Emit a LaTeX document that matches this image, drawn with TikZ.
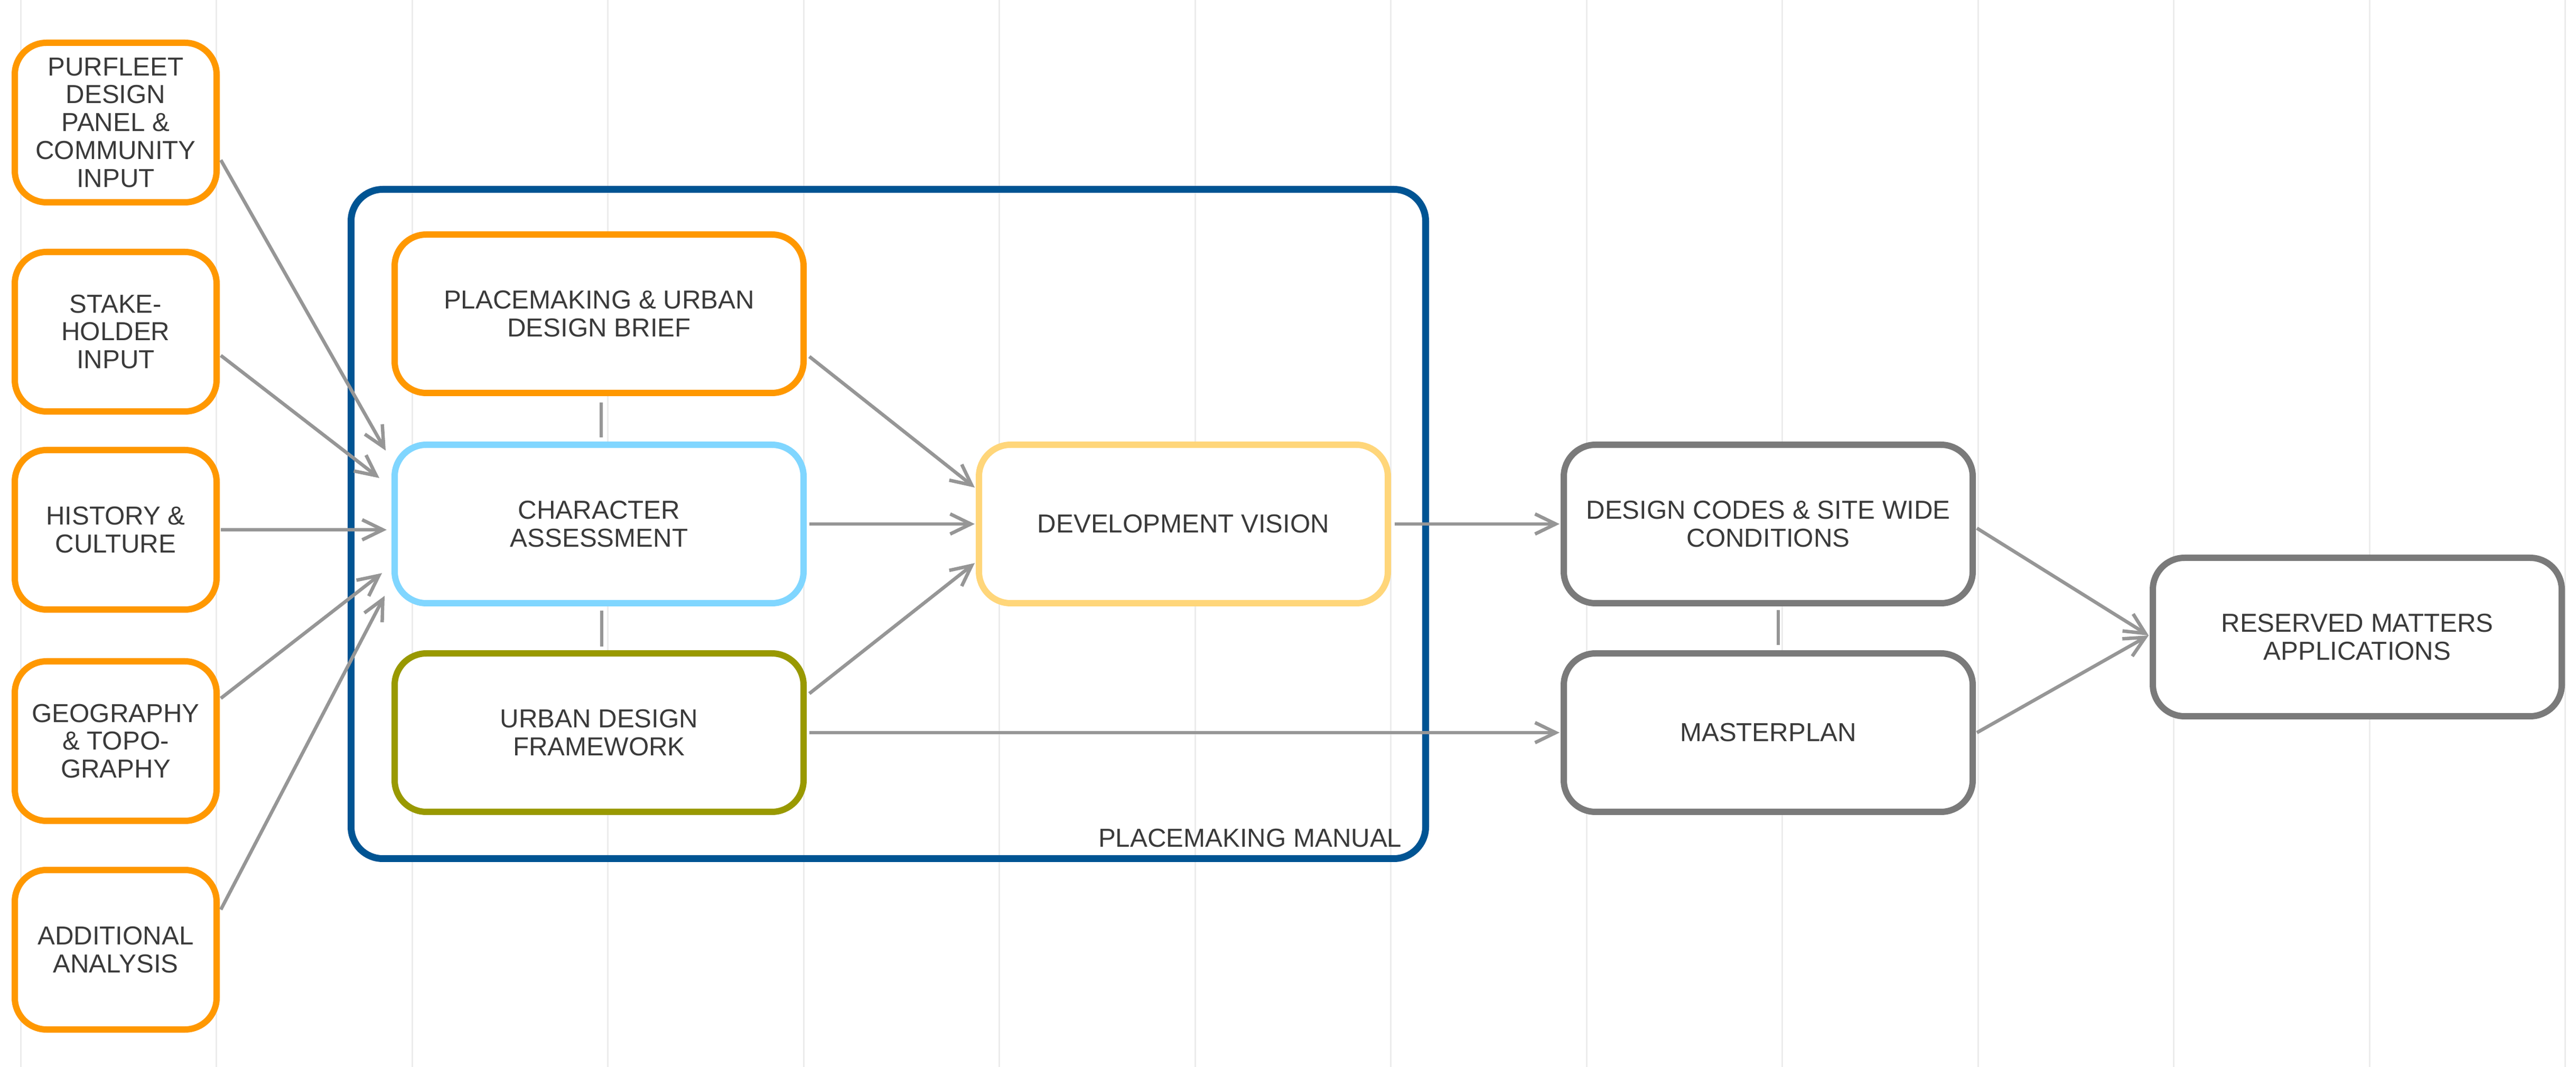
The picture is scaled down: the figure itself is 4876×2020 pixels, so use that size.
\documentclass[tikz,border=0pt]{standalone}
\usepackage{fontspec}
\setmainfont{Liberation Sans}
\usetikzlibrary{arrows.meta}
\definecolor{orng}{RGB}{255,152,0}
\definecolor{ltblue}{RGB}{128,214,255}
\definecolor{olv}{RGB}{153,153,0}
\definecolor{ylw}{RGB}{255,214,122}
\definecolor{gbox}{RGB}{122,122,122}
\definecolor{pmblue}{RGB}{0,84,147}
\definecolor{lgray}{RGB}{150,150,150}
\definecolor{gridc}{RGB}{236,236,236}
\definecolor{txt}{RGB}{58,58,58}
\begin{document}
\begin{tikzpicture}[x=0.1mm,y=-0.1mm,
  box/.style={draw, rounded corners=6mm, line width=1.2mm, fill=white,
    minimum width=77.4mm, minimum height=30mm, align=center, inner sep=0pt,
    font=\fontsize{14}{15}\selectfont, text=txt},
  lbox/.style={box, draw=orng, minimum width=38.2mm, minimum height=30.2mm},
  arr/.style={draw=lgray, line width=0.65mm, -{Straight Barb[length=3.9mm,width=3.8mm]}},
  conn/.style={draw=lgray, line width=0.65mm},
  gridline/.style={draw=gridc, line width=0.3mm}]
\useasboundingbox (0,0) rectangle (4876,2020);
\fill[white] (0,0) rectangle (4876,2020);
% grid
\foreach \k in {0,...,13}{
  \draw[gridline] ({39+370.5*\k},0) -- ({39+370.5*\k},2020);
}
% container
\node[draw=pmblue, line width=1.3mm, rounded corners=6mm, minimum width=203.4mm,
  minimum height=126.7mm, inner sep=0pt] (pm) at (1681.5,992) {};
\node[font=\fontsize{14}{15}\selectfont, text=txt, anchor=base east, inner sep=0pt]
  (pmlabel) at ([xshift=-5.1mm,yshift=2.8mm]pm.south east) {PLACEMAKING MANUAL};
% left boxes
\node[lbox] (b1) at (219,232) {PURFLEET\\DESIGN\\PANEL \&\\COMMUNITY\\INPUT};
\node[lbox] (b2) at (219,628) {STAKE-\\HOLDER\\INPUT};
\node[lbox] (b3) at (219,1003) {HISTORY \&\\CULTURE};
\node[lbox] (b4) at (219,1403) {GEOGRAPHY\\\& TOPO-\\GRAPHY};
\node[lbox] (b5) at (219,1798) {ADDITIONAL\\ANALYSIS};
% inner boxes
\node[box, draw=orng] (brief) at (1134,594) {PLACEMAKING \& URBAN\\DESIGN BRIEF};
\node[box, draw=ltblue] (ca) at (1134,992) {CHARACTER\\ASSESSMENT};
\node[box, draw=olv] (udf) at (1134,1387) {URBAN DESIGN\\FRAMEWORK};
\node[box, draw=ylw] (dv) at (2240,992) {DEVELOPMENT VISION};
% right boxes
\node[box, draw=gbox] (dc) at (3347,992) {DESIGN CODES \& SITE WIDE\\CONDITIONS};
\node[box, draw=gbox] (mp) at (3347,1387) {MASTERPLAN};
\node[box, draw=gbox] (rm) at (4462,1206) {RESERVED MATTERS\\APPLICATIONS};
% connectors
\draw[arr] ([xshift=0.2mm,yshift=-7.1mm]b1.east) -- ([xshift=-1.1mm,yshift=13.9mm]ca.west);
\draw[arr] ([xshift=0.2mm,yshift=-4.5mm]b2.east) -- ([xshift=-2.3mm,yshift=8.7mm]ca.west);
\draw[arr] ([xshift=0.2mm]b3.east) -- ([xshift=-0.9mm,yshift=-1.1mm]ca.west);
\draw[arr] ([xshift=0.2mm,yshift=8.1mm]b4.east) -- ([xshift=-1.8mm,yshift=-9.3mm]ca.west);
\draw[arr] ([xshift=0.2mm,yshift=7.6mm]b5.east) -- ([xshift=-1.3mm,yshift=-13.6mm]ca.west);
\draw[arr] ([xshift=0.5mm,yshift=-8.1mm]brief.east) -- ([xshift=-0.2mm,yshift=6.9mm]dv.west);
\draw[arr] ([xshift=0.5mm]ca.east) -- ([xshift=-0.2mm]dv.west);
\draw[arr] ([xshift=0.5mm,yshift=7.4mm]udf.east) -- ([xshift=-0.2mm,yshift=-7.4mm]dv.west);
\draw[arr] ([xshift=0.7mm]dv.east) -- ([xshift=-0.2mm]dc.west);
\draw[arr] ([xshift=0.5mm]udf.east) -- ([xshift=-0.2mm]mp.west);
\draw[arr] ([xshift=0.2mm,yshift=-0.8mm]dc.east) -- ([xshift=-0.2mm,yshift=0.3mm]rm.west);
\draw[arr] ([xshift=0.2mm]mp.east) -- ([xshift=-0.2mm,yshift=0.3mm]rm.west);
\draw[conn] ([xshift=0.4mm,yshift=-1.2mm]brief.south) -- ([xshift=0.4mm,yshift=0.8mm]ca.north);
\draw[conn] ([xshift=0.5mm,yshift=-0.8mm]ca.south) -- ([xshift=0.5mm,yshift=0.7mm]udf.north);
\draw[conn] ([xshift=1.9mm,yshift=-0.7mm]dc.south) -- ([xshift=1.9mm,yshift=1.0mm]mp.north);
\end{tikzpicture}
\end{document}
